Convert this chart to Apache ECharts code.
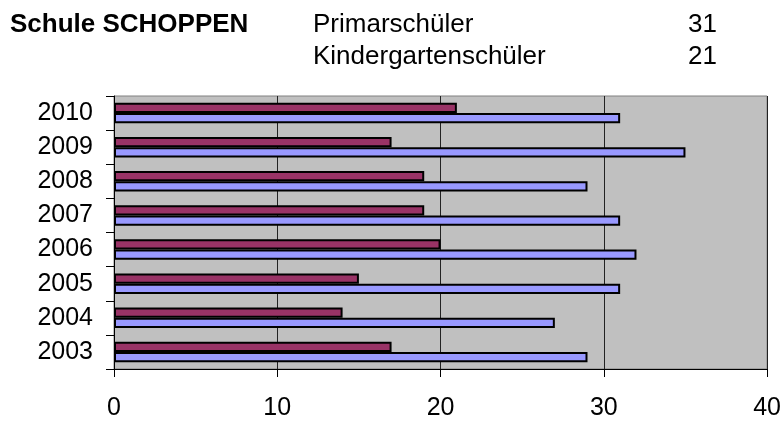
<!DOCTYPE html>
<html>
<head>
<meta charset="utf-8">
<script src="https://cdn.jsdelivr.net/npm/echarts@6/dist/echarts.min.js"></script>
<style>
html, body { margin: 0; padding: 0; background: #fff; }
#panel { width: 784px; height: 421px; }
</style>
</head>
<body>
<div id="panel"></div>
<script>
var years = ['2003', '2004', '2005', '2006', '2007', '2008', '2009', '2010'];
var primar = [29, 27, 31, 32, 31, 29, 35, 31];
var kinder = [17, 14, 15, 20, 19, 19, 17, 21];
var xTicks = [0, 10, 20, 30, 40];

var font = '"Liberation Sans", Arial, sans-serif';
var myChart;

function headText(text, pos, top, bold)
{
    var t = {
        text: text,
        top: top,
        padding: 0,
        textStyle: {
            fontFamily: font,
            fontSize: 26,
            fontWeight: bold ? 'bold' : 'normal',
            color: '#000'
        }
    };
    if (pos.left != null) t.left = pos.left;
    if (pos.right != null) t.right = pos.right;
    return t;
}

window.onload = function()
{
    myChart = echarts.init(document.getElementById('panel'));
    myChart.setOption(
    {
        animation: false,
        backgroundColor: '#fff',
        title: [
            headText('Schule SCHOPPEN', { left: 10 }, 12, true),
            headText('Primarschüler', { left: 313 }, 12, false),
            headText('Kindergartenschüler', { left: 313 }, 44, false),
            // Werte 2010
            headText(String(primar[primar.length - 1]), { right: 784 - 717 }, 12, false),
            headText(String(kinder[kinder.length - 1]), { right: 784 - 717 }, 44, false)
        ],
        grid: {
            left: 114, right: 16, top: 96, bottom: 52,
            show: true,
            backgroundColor: '#C0C0C0',
            borderColor: '#808080',
            borderWidth: 1
        },
        xAxis: {
            type: 'value',
            min: xTicks[0],
            max: xTicks[xTicks.length - 1],
            interval: 10,
            axisLine: { show: true, lineStyle: { color: '#000', width: 1 } },
            axisTick: { show: true, length: 8, lineStyle: { color: '#000' } },
            axisLabel: { margin: 27, fontFamily: font, fontSize: 25, color: '#000' },
            splitLine: { show: true, lineStyle: { color: '#222', width: 1 } }
        },
        yAxis: {
            type: 'category',
            data: years,
            axisLine: { show: true, lineStyle: { color: '#000', width: 1 } },
            axisTick: { show: true, length: 8, lineStyle: { color: '#000' } },
            axisLabel: { margin: 21, fontFamily: font, fontSize: 25, color: '#000' },
            splitLine: { show: false }
        },
        series: [
            {
                name: 'Kindergartenschüler',
                type: 'bar',
                data: kinder,
                barGap: '0%',
                barCategoryGap: '40%',
                itemStyle: { color: '#993366', borderColor: '#000', borderWidth: 2 }
            },
            {
                name: 'Primarschüler',
                type: 'bar',
                data: primar,
                itemStyle: { color: '#9999FF', borderColor: '#000', borderWidth: 2 }
            }
        ]
    });
};
</script>
</body>
</html>
